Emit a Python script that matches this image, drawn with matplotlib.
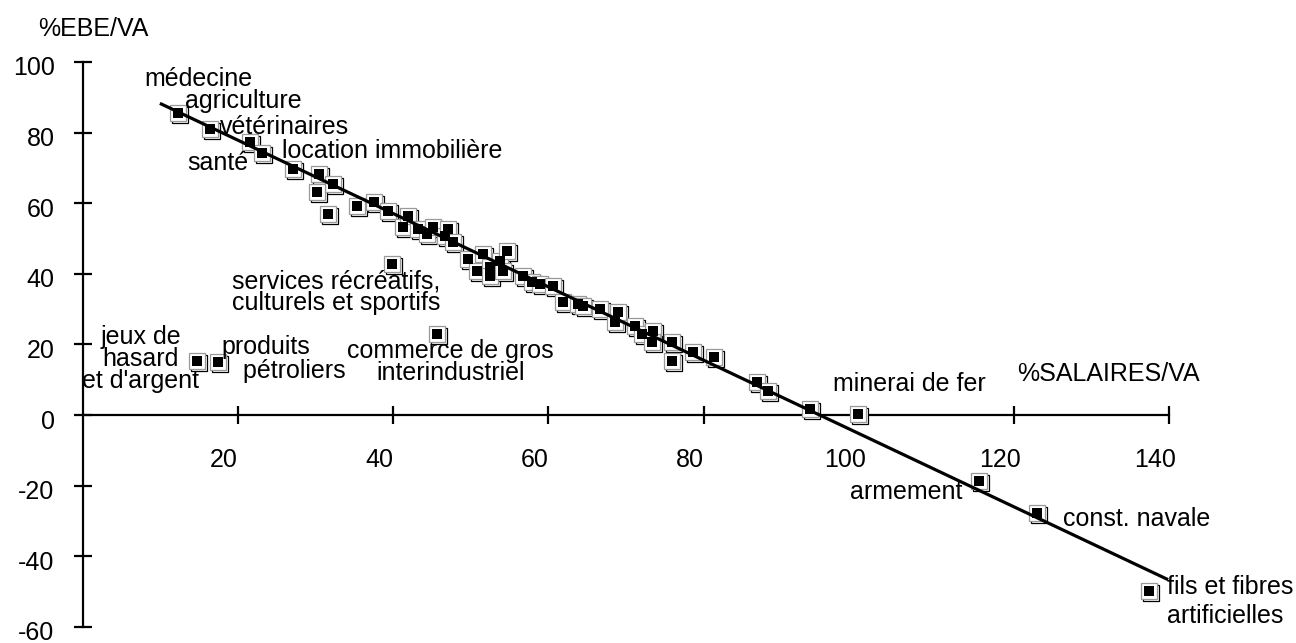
import matplotlib
matplotlib.use("Agg")
import matplotlib.pyplot as plt
import matplotlib.transforms as mtransforms

plt.rcParams['font.family'] = ['Liberation Sans', 'DejaVu Sans']
plt.rcParams['font.size'] = 18

# %SALAIRES/VA vs %EBE/VA, one point per sector
salaires = [12.25, 16.37, 21.53, 23.08, 27.07, 30.42, 32.23, 30.17, 31.58, 35.32,
            37.51, 39.32, 41.25, 41.90, 43.19, 44.35, 45.12, 46.67, 47.05, 47.70,
            49.63, 50.79, 51.57, 52.47, 52.47, 53.76, 54.66, 54.14, 56.72, 57.88,
            58.91, 60.59, 61.88, 63.81, 64.46, 66.65, 68.58, 68.97, 71.16, 72.06,
            73.48, 73.35, 75.93, 75.93, 78.64, 81.35, 86.89, 88.31, 93.72, 99.91,
            115.5, 123.0, 137.4, 39.84, 45.64, 14.70, 17.40]
ebe = [85.5, 81.0, 77.3, 74.2, 69.7, 68.3, 65.4, 63.2, 56.9, 59.2,
       60.3, 57.8, 53.2, 56.4, 52.7, 51.3, 53.2, 50.7, 52.7, 49.0,
       44.2, 40.8, 45.6, 41.9, 39.4, 43.6, 46.4, 40.8, 39.4, 37.7,
       37.1, 36.5, 32.0, 31.4, 30.9, 30.0, 26.3, 29.2, 25.2, 22.9,
       23.8, 20.7, 20.7, 15.3, 17.8, 16.4, 9.3, 6.8, 1.7, 0.3,
       -18.7, -27.8, -49.8, 42.8, 22.9, 15.3, 15.0]

# fitted line
line_x = [10.1, 139.7]
line_y = [88.1, -46.4]

# sector labels: text, x, y, horizontal alignment, line spacing
labels = [
    ("médecine", 7.9, 95.2, 'left', 1.0),
    ("agriculture", 13.2, 88.9, 'left', 1.0),
    ("vétérinaires", 17.7, 81.6, 'left', 1.0),
    ("location immobilière", 25.7, 74.8, 'left', 1.0),
    ("santé", 13.4, 71.4, 'left', 1.0),
    ("services récréatifs,\nculturels et sportifs", 32.6, 34.8, 'center', 0.85),
    ("commerce de gros\ninterindustriel", 47.4, 15.0, 'center', 0.9),
    ("jeux de\nhasard\net d'argent", 7.4, 15.9, 'center', 0.9),
    ("produits\n   pétroliers", 17.9, 16.0, 'left', 1.0),
    ("minerai de fer", 96.7, 8.8, 'left', 1.0),
    ("armement", 113.3, -21.8, 'right', 1.0),
    ("const. navale", 126.3, -29.5, 'left', 1.0),
    ("fils et fibres\nartificielles", 139.8, -52.7, 'left', 1.25),
]

x_ticks = [20, 40, 60, 80, 100, 120, 140]
y_ticks = [-60, -40, -20, 0, 20, 40, 60, 80, 100]

fig = plt.figure(figsize=(12.96, 6.43), dpi=100)
ax = fig.add_axes([83 / 1296, 16 / 643, 1086 / 1296, 565 / 643])
ax.set_xlim(0, 140)
ax.set_ylim(-60, 100)

ax.spines['top'].set_visible(False)
ax.spines['right'].set_visible(False)
ax.spines['bottom'].set_position(('data', 0))
for s in ('left', 'bottom'):
    ax.spines[s].set_linewidth(1.6)

ax.set_xticks(x_ticks)
ax.set_yticks(y_ticks)
ax.set_yticklabels([str(v) for v in y_ticks])
ax.tick_params(direction='inout', length=13, width=1.6, labelsize=18)
ax.tick_params(axis='x', pad=17)
ax.tick_params(axis='y', pad=14)

dx = mtransforms.ScaledTranslation(-14 / 100, 0, fig.dpi_scale_trans)
for lab in ax.get_xticklabels():
    lab.set_transform(lab.get_transform() + dx)
dy = mtransforms.ScaledTranslation(0, -4 / 100, fig.dpi_scale_trans)
for lab in ax.get_yticklabels():
    lab.set_transform(lab.get_transform() + dy)

# markers: shadow frame, white frame, black square
shadow = mtransforms.offset_copy(ax.transData, fig=fig, x=2, y=-2, units='dots')
ax.plot(salaires, ebe, ls='none', marker='s', ms=12, mfc='white', mec='black',
        mew=0.9, transform=shadow, zorder=3, clip_on=False)
ax.plot(salaires, ebe, ls='none', marker='s', ms=11.5, mfc='white', mec='#999999',
        mew=0.9, zorder=4, clip_on=False)
ax.plot(salaires, ebe, ls='none', marker='s', ms=7.2, mfc='black', mec='black',
        mew=0, zorder=5, clip_on=False)

ax.plot(line_x, line_y, color='black', lw=2.3, zorder=6, clip_on=False)

for txt, x, y, ha, ls in labels:
    ax.text(x, y, txt, ha=ha, va='center', multialignment=ha,
            fontsize=18, linespacing=ls, zorder=7)

ax.text(120.4, 11.6, "%SALAIRES/VA", ha='left', va='center', fontsize=18)
ax.text(-5.8, 109.3, "%EBE/VA", ha='left', va='center', fontsize=18)

fig.savefig("out.png", dpi=100)
